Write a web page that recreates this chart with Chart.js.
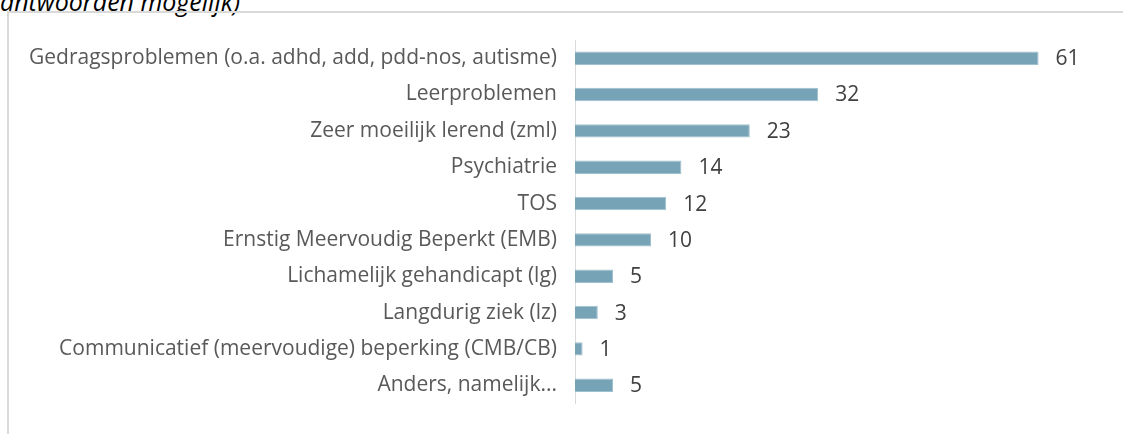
<!DOCTYPE html>
<html>
<head>
<meta charset="utf-8">
<script src="https://cdn.jsdelivr.net/npm/chart.js@4"></script>
<style>
  html, body { margin: 0; padding: 0; background: #fff; overflow: hidden; }
  #wrap { position: relative; width: 1123px; height: 434px; }
  #note { position: absolute; left: 0; top: -11px; font: italic 25px "Open Sans", sans-serif; color: #000; line-height: 25px; white-space: nowrap; }
  #frame { position: absolute; left: 7px; top: 11px; width: 1200px; height: 500px; border-top: 2px solid #d9d9d9; border-left: 2px solid #d9d9d9; }
  #chartBox { position: absolute; left: 0; top: 0; width: 1123px; height: 434px; }
</style>
</head>
<body>
<div id="wrap">
  <div id="note">antwoorden mogelijk)</div>
  <div id="frame"></div>
  <div id="chartBox"><canvas id="barChart"></canvas></div>
</div>
<script>
const categories = [
    'Gedragsproblemen (o.a. adhd, add, pdd-nos, autisme)',
    'Leerproblemen',
    'Zeer moeilijk lerend (zml)',
    'Psychiatrie',
    'TOS',
    'Ernstig Meervoudig Beperkt (EMB)',
    'Lichamelijk gehandicapt (lg)',
    'Langdurig ziek (lz)',
    'Communicatief (meervoudige) beperking (CMB/CB)',
    'Anders, namelijk...'
];
const counts = [61, 32, 23, 14, 12, 10, 5, 3, 1, 5];

// draws the number next to each bar
const valueLabels = {
    id: 'valueLabels',
    afterDatasetsDraw(chart) {
        const ctx = chart.ctx;
        const meta = chart.getDatasetMeta(0);
        ctx.save();
        ctx.font = '21px "Open Sans", sans-serif';
        ctx.fillStyle = '#404040';
        ctx.textAlign = 'left';
        ctx.textBaseline = 'middle';
        meta.data.forEach((bar, i) => {
            ctx.fillText(String(counts[i]), bar.x + 17, bar.y + 1);
        });
        ctx.restore();
    }
};

const ctx = document.getElementById('barChart').getContext('2d');

new Chart(ctx, {
    type: 'bar',
    data: {
        labels: categories,
        datasets: [{
            label: 'Aantal',
            data: counts,
            backgroundColor: '#77a3b6',
            borderColor: '#9fc0ce',
            borderWidth: 1,
            barPercentage: 0.37,
            categoryPercentage: 1
        }]
    },
    options: {
        indexAxis: 'y',
        responsive: true,
        maintainAspectRatio: false,
        animation: false,
        layout: { padding: { top: 40, bottom: 18, right: 16, left: 0 } },
        plugins: {
            legend: { display: false },
            tooltip: { enabled: false }
        },
        scales: {
            x: {
                display: false,
                min: 0,
                max: 70
            },
            y: {
                afterFit(scale) { scale.width = 575; },
                grid: { display: false, drawTicks: false },
                border: { display: true, color: '#d9d9d9', width: 1 },
                ticks: {
                    padding: 18,
                    color: '#595959',
                    font: { family: '"Open Sans", sans-serif', size: 21 }
                }
            }
        }
    },
    plugins: [valueLabels]
});
</script>
</body>
</html>
